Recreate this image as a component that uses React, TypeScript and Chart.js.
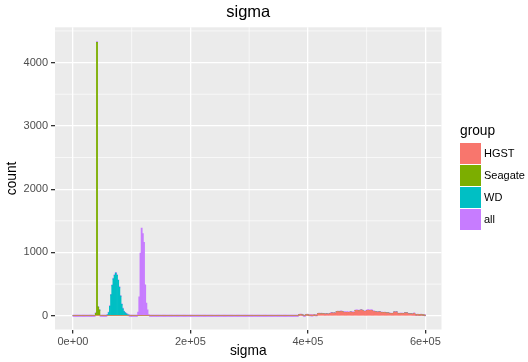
import { useEffect, useRef } from 'react';
import { Chart, registerables } from 'chart.js';

Chart.register(...registerables);

const TITLE = 'sigma';
const X_TITLE = 'sigma';
const Y_TITLE = 'count';
const LEGEND_TITLE = 'group';
const GROUPS = ['HGST', 'Seagate', 'WD', 'all'];
const COLORS = ['#F8766D', '#7CAE00', '#00BFC4', '#C77CFF'];

const BIN_WIDTH = 2000;
const BIN_COUNT = 300;

const X_MAJOR = [0, 200000, 400000, 600000];
const X_MINOR = [100000, 300000, 500000];
const Y_MAJOR = [0, 1000, 2000, 3000, 4000];
const Y_MINOR = [500, 1500, 2500, 3500, 4500];
const X_LIMITS = [-30500, 627400];
const Y_LIMITS = [-217, 4557];

// counts per bin, starting at the given bin index
const hgstStart = 192;
const hgstCounts = [
  14, 18, 16, 12, 0, 0, 15, 18, 10,
  6, 8, 5, 7, 9, 6, 8,
  30, 34, 28, 32,
  26, 30, 24, 28, 27, 22, 29,
  40, 44, 38, 42,
  35,
  62, 66, 60, 64, 68, 61,
  52, 56, 50, 55, 49, 54, 57, 51, 53, 50,
  82, 86, 80,
  68,
  84, 88, 82,
  70, 66, 72,
  84, 87, 81, 86, 83,
  70, 68,
  58, 60, 55, 59, 57,
  48, 50, 46, 49,
  43, 41, 44,
  32, 34, 30, 33,
  58, 56, 60,
  32, 30, 34, 31, 33, 29,
  43, 41, 44,
  27, 25, 28, 26, 24,
  37,
  16, 14, 17, 15, 13, 16, 14,
  10, 8,
];
const seagateStart = 19;
const seagateCounts = [40, 4320, 137, 90];
const wdStart = 29;
const wdCounts = [15, 50, 150, 330, 480, 585, 640, 675, 640, 560, 450, 310, 180, 110, 65, 45, 30, 16, 6];
const allStart = 55;
const allCounts = [60, 300, 990, 1385, 1300, 1160, 490, 200, 95, 20];

const GROUP_STARTS = [hgstStart, seagateStart, wdStart, allStart];
const GROUP_COUNTS = [hgstCounts, seagateCounts, wdCounts, allCounts];

function binSeries(start: number, counts: number[]) {
  const out: { x: number; y: number }[] = [];
  for (let i = 0; i < BIN_COUNT; i++) {
    const k = i - start;
    const y = k >= 0 && k < counts.length ? counts[k] : 0;
    out.push({ x: (i + 0.5) * BIN_WIDTH, y });
  }
  return out;
}

function sci(v: number) {
  if (v === 0) return '0e+00';
  const e = Math.floor(Math.log10(Math.abs(v)));
  const m = Math.round(v / Math.pow(10, e));
  const sign = e < 0 ? '-' : '+';
  const ae = Math.abs(e);
  return `${m}e${sign}${ae < 10 ? '0' + ae : ae}`;
}

const FONT = "'Liberation Sans', Arial, Helvetica, sans-serif";

const panelPlugin = {
  id: 'panelBg',
  beforeDraw(chart: any) {
    const { ctx, chartArea: a, scales } = chart;
    ctx.save();
    ctx.fillStyle = '#EBEBEB';
    ctx.fillRect(a.left, a.top, a.right - a.left, a.bottom - a.top);
    ctx.strokeStyle = '#FFFFFF';
    ctx.lineWidth = 0.65;
    X_MINOR.forEach((v) => {
      const x = scales.x.getPixelForValue(v);
      ctx.beginPath();
      ctx.moveTo(x, a.top);
      ctx.lineTo(x, a.bottom);
      ctx.stroke();
    });
    Y_MINOR.forEach((v) => {
      const y = scales.y.getPixelForValue(v);
      ctx.beginPath();
      ctx.moveTo(a.left, y);
      ctx.lineTo(a.right, y);
      ctx.stroke();
    });
    ctx.restore();
  },
};

export default function App() {
  const ref = useRef<HTMLCanvasElement | null>(null);

  useEffect(() => {
    if (!ref.current) return;
    Chart.defaults.font.family = FONT;
    const datasets = GROUPS.map((g, k) => ({
      label: g,
      data: binSeries(GROUP_STARTS[k], GROUP_COUNTS[k]),
      backgroundColor: COLORS[k],
      borderWidth: 0,
      barPercentage: 1,
      categoryPercentage: 1,
      minBarLength: g === 'all' ? 1.2 : 0,
    }));
    const chart = new Chart(ref.current, {
      type: 'bar',
      data: { datasets },
      plugins: [panelPlugin],
      options: {
        responsive: false,
        maintainAspectRatio: false,
        animation: false,
        layout: { padding: { left: 0, right: 86.5, top: 0, bottom: 0 } },
        plugins: {
          legend: { display: false },
          tooltip: { enabled: false },
          title: {
            display: true,
            text: TITLE,
            fullSize: false,
            color: '#000000',
            font: { size: 16.5, weight: 'normal', lineHeight: 1.2 },
            padding: { top: 3, bottom: 4.5 },
          },
        },
        scales: {
          x: {
            type: 'linear',
            min: X_LIMITS[0],
            max: X_LIMITS[1],
            offset: false,
            stacked: true,
            afterBuildTicks: (s: any) => {
              s.ticks = X_MAJOR.map((value) => ({ value }));
            },
            afterFit: (s: any) => {
              s.height = 32.5;
            },
            grid: {
              offset: false,
              color: '#FFFFFF',
              lineWidth: 1.3,
              drawTicks: true,
              tickLength: 4,
              tickColor: '#333333',
              tickWidth: 1.3,
            },
            border: { display: false },
            ticks: {
              callback: (v: any) => sci(Number(v)),
              color: '#4D4D4D',
              font: { size: 11 },
              padding: 2,
              maxRotation: 0,
              autoSkip: false,
            },
            title: {
              display: true,
              text: X_TITLE,
              color: '#000000',
              font: { size: 13.75, lineHeight: 1.2 },
              padding: { top: 0, bottom: 2.75 },
            },
          },
          y: {
            type: 'linear',
            min: Y_LIMITS[0],
            max: Y_LIMITS[1],
            stacked: true,
            afterBuildTicks: (s: any) => {
              s.ticks = Y_MAJOR.map((value) => ({ value }));
            },
            afterFit: (s: any) => {
              s.width = 55;
            },
            grid: {
              color: '#FFFFFF',
              lineWidth: 1.3,
              drawTicks: true,
              tickLength: 4,
              tickColor: '#333333',
              tickWidth: 1.3,
            },
            border: { display: false },
            ticks: {
              callback: (v: any) => String(v),
              color: '#4D4D4D',
              font: { size: 11 },
              padding: 3,
            },
            title: {
              display: true,
              text: Y_TITLE,
              color: '#000000',
              font: { size: 13.75, lineHeight: 1.2 },
              padding: { top: 4, bottom: 0 },
            },
          },
        },
      } as any,
    });
    return () => chart.destroy();
  }, []);

  return (
    <div style={{ position: 'fixed', left: 0, top: 0, width: 528, height: 362, background: '#FFFFFF' }}>
      <canvas ref={ref} width={528} height={362} style={{ position: 'absolute', left: 0, top: 0 }} />
      <div
        style={{
          position: 'absolute',
          left: 460,
          top: 122.6,
          fontFamily: FONT,
          fontSize: 13.75,
          lineHeight: '16px',
          color: '#000000',
          whiteSpace: 'nowrap',
        }}
      >
        {LEGEND_TITLE}
      </div>
      {GROUPS.map((g, k) => (
        <div key={g}>
          <div
            style={{
              position: 'absolute',
              left: 460,
              top: 143 + 22 * k,
              width: 20.5,
              height: 20.5,
              background: COLORS[k],
            }}
          />
          <div
            style={{
              position: 'absolute',
              left: 484,
              top: 143 + 22 * k,
              fontFamily: FONT,
              fontSize: 11,
              lineHeight: '20.5px',
              color: '#000000',
              whiteSpace: 'nowrap',
            }}
          >
            {g}
          </div>
        </div>
      ))}
    </div>
  );
}
